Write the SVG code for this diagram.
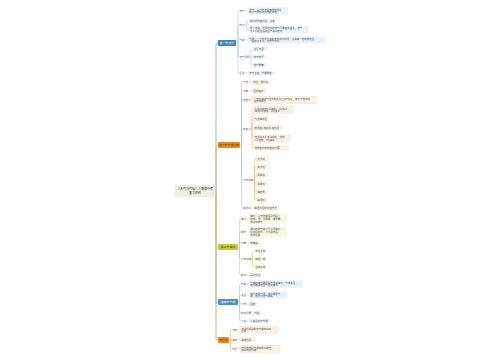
<svg xmlns="http://www.w3.org/2000/svg" width="500" height="360" viewBox="0 0 500 360">
<style>
text{font-family:"Noto Sans CJK SC","Noto Sans",sans-serif;dominant-baseline:central}
.t{font-size:2.5px;fill:#555}
.l{font-size:2.6px;fill:#666}
.n{font-size:2.8px}
.c{fill:none;stroke-width:0.6}
.b1{stroke:#9cc7e0}.b2{stroke:#f0b67a}.b3{stroke:#cdd45c}.b5{stroke:#f0a860}
.x1{fill:#e7f2f9}.x2{fill:#fdf1e6;stroke:#f6d2ae;stroke-width:0.3}.x3{fill:#f6f8df}
</style>
<rect width="500" height="360" fill="#ffffff"/>
<g id="connectors">
<g fill="none" stroke-width="1">
<path d="M215 191 H216 V45 Q216 43 218 43" stroke="#8fbfdc"/>
<path d="M215 191 H216 V304 Q216 302 218 302" stroke="#8fbfdc"/>
<path d="M215 191 H216 V245 Q216 247 218 247" stroke="#d6c27c"/>
<path d="M215 191 H216 V147 Q216 145 218 145" stroke="#e2b47e"/>
<path d="M215 191 H216 V338 Q216 340 218 340" stroke="#dcb07a"/>
</g>
<g class="c b1">
<path d="M236 43 H238 V12.5 Q238 11 239.5 11"/><path d="M245.2 11 H247.8"/>
<path d="M238 43 V26.5 Q238 25 239.5 25"/>
<path d="M245.3 25 H246.5 V22.5 Q246.5 21 248 21 H248.5"/><path d="M246.5 25 V28 Q246.5 29.5 248 29.5 H248.5"/>
<path d="M238 43 V41.5 Q238 40 239.5 40"/><path d="M245.2 40 H247.8"/>
<path d="M238 43 V55.5 Q238 57 239.5 57"/>
<path d="M250.3 57 H251 V50.5 Q251 49 252.5 49"/><path d="M250.3 57 H252.5"/><path d="M251 57 V63.5 Q251 65 252.5 65"/>
<path d="M238 43 V71.5 Q238 73 239.5 73"/><path d="M245.2 73 H247.8"/>
</g>
<g class="c b2">
<path d="M240 145 H241.5 V83.5 Q241.5 82 243 82"/><path d="M248.6 82 H251.8"/>
<path d="M241.5 145 V92.5 Q241.5 91 243 91"/><path d="M248.6 91 H251.8"/>
<path d="M241.5 145 V101.5 Q241.5 100 243 100"/><path d="M251.2 100 H252.3"/>
<path d="M241.5 145 V130.5 Q241.5 129 243 129"/>
<path d="M251.2 129 H252 V111.5 Q252 110 253.3 110"/><path d="M252 129 V120.5 Q252 119 253.3 119"/><path d="M252 129 V129 Q252 127.5 253.3 127.5"/><path d="M252 129 V137 Q252 138.5 253.3 138.5"/><path d="M252 129 V146.5 Q252 148 253.3 148"/>
<path d="M241.5 145 V178.5 Q241.5 180 243 180"/>
<path d="M253.6 180 H254.5 V160.5 Q254.5 159 256 159"/><path d="M254.5 180 V168.5 Q254.5 167 256 167"/><path d="M254.5 180 V176.5 Q254.5 175 256 175"/><path d="M254.5 180 V182 Q254.5 183.5 256 183.5"/><path d="M254.5 180 V190.5 Q254.5 192 256 192"/><path d="M254.5 180 V198.5 Q254.5 200 256 200"/>
<path d="M241.5 145 V206.5 Q241.5 208 243 208"/><path d="M251.2 208 H252.8"/>
</g>
<g class="c b3">
<path d="M238 247 H239.5 V220.5 Q239.5 219 241 219"/><path d="M246.6 219 H248.8"/>
<path d="M239.5 247 V233.5 Q239.5 232 241 232"/><path d="M246.6 232 H248.8"/>
<path d="M239.5 247 V244.5 Q239.5 243 241 243"/><path d="M246.6 243 H248.8"/>
<path d="M239.5 247 V257.5 Q239.5 259 241 259"/>
<path d="M251.6 259 H252.5 V252.5 Q252.5 251 254 251"/><path d="M251.6 259 H254"/><path d="M252.5 259 V265.5 Q252.5 267 254 267"/>
<path d="M239.5 247 V273.5 Q239.5 275 241 275"/><path d="M246.6 275 H248.8"/>
</g>
<g class="c b1">
<path d="M238 302 H239.5 V285.5 Q239.5 284 241 284"/><path d="M246.6 284 H248.8"/>
<path d="M239.5 302 V296.5 Q239.5 295 241 295"/><path d="M246.6 295 H248.8"/>
<path d="M239.5 302 V302.5 Q239.5 304 241 304"/><path d="M246.6 304 H248.8"/>
<path d="M239.5 302 V311.5 Q239.5 313 241 313"/><path d="M251.6 313 H252.8"/>
<path d="M239.5 302 V319.5 Q239.5 321 241 321"/><path d="M246.6 321 H248.8"/>
</g>
<g class="c b5">
<path d="M229 340 H230.5 V331.5 Q230.5 330 232 330"/><path d="M237.6 330 H239.8"/>
<path d="M230.5 340 V341 Q230.5 339.5 232 339.5"/><path d="M237.6 339.5 H239.8"/>
<path d="M230.5 340 V347.5 Q230.5 349 232 349"/><path d="M237.6 349 H239.8"/>
</g>
</g>
<g id="root">
<rect x="175" y="185" width="40" height="12" rx="1" fill="#efefe6" stroke="#e2e2d8" stroke-width="0.3"/>
<text x="195" y="189.3" font-size="3" fill="#333" text-anchor="middle">《天气与气候》人教版中考</text>
<text x="195" y="193.2" font-size="3" fill="#333" text-anchor="middle">复习资料</text>
</g>
<g id="n1">
<rect x="218" y="40" width="18" height="6" rx="0.8" fill="#3f86b5"/>
<text class="n" x="227" y="43" fill="#fff" text-anchor="middle">第一节 天气</text>
<text class="l" x="239.5" y="11">天气</text>
<rect class="x1" x="248" y="7.5" width="40" height="7"/>
<text class="t" x="249.2" y="9.6">天气：某个地方距离地表较近</text><text class="t" x="249.2" y="12.4">的大气层短时间内的状态</text>
<text class="l" x="239.5" y="25">特点</text>
<rect class="x1" x="248.5" y="19" width="28" height="4"/>
<text class="t" x="249.7" y="21">短时间内变化大，多变</text>
<rect class="x1" x="248.5" y="26" width="60" height="7"/>
<text class="t" x="249.7" y="28.1">同一时刻，不同地方的天气可能差别很大，天气</text><text class="t" x="249.7" y="30.9">与人们的生活和生产关系密切</text>
<text class="l" x="239.5" y="40">气候</text>
<rect class="x1" x="248" y="36.5" width="78" height="7"/>
<text class="t" x="249.2" y="38.6">气候：一个地方多年的天气平均状况，它具有一定的稳定性，</text><text class="t" x="249.2" y="41.4">一般变化不大，与天气不同</text>
<text class="l" x="239.5" y="57">天气预报</text>
<rect class="x1" x="252.5" y="47" width="13" height="4"/><text class="t" x="253.7" y="49">卫星云图</text>
<rect class="x1" x="252.5" y="55" width="13" height="4"/><text class="t" x="253.7" y="57">天气符号</text>
<rect class="x1" x="252.5" y="63" width="13" height="4"/><text class="t" x="253.7" y="65">空气质量</text>
<text class="l" x="239.5" y="73">区别</text>
<rect class="x1" x="248" y="71" width="26" height="4"/><text class="t" x="249.2" y="73">天气多变，气候稳定</text>
</g>
<g id="n2">
<rect x="218" y="142" width="22" height="6" rx="0.8" fill="#ec8a22"/>
<text class="n" x="229" y="145" fill="#5a2a00" text-anchor="middle">第二节 气温分布</text>
<text class="l" x="243" y="82">气温</text>
<rect class="x2" x="252" y="80" width="18" height="4"/><text class="t" x="253.2" y="82">单位：摄氏度</text>
<text class="l" x="243" y="91">测量</text>
<rect class="x2" x="252" y="89" width="13" height="4"/><text class="t" x="253.2" y="91">百叶箱中</text>
<text class="l" x="243" y="100">日变化</text>
<rect class="x2" x="252.5" y="96.5" width="64" height="7"/>
<text class="t" x="253.7" y="98.6">一天中最高气温出现在午后2时左右，最低气温出现</text><text class="t" x="253.7" y="101.4">在日出前后</text>
<text class="l" x="243" y="129">年变化</text>
<rect class="x2" x="253.3" y="106.5" width="40" height="7"/>
<text class="t" x="254.5" y="108.6">北半球陆地7月最热，1月最冷，</text><text class="t" x="254.5" y="111.4">海洋8月最热，2月最冷</text>
<rect class="x2" x="253.3" y="117" width="15" height="4"/><text class="t" x="254.5" y="119">气温曲线图</text>
<rect class="x2" x="253.3" y="125.5" width="28" height="4"/><text class="t" x="254.5" y="127.5">年温差=最高月-最低月</text>
<rect class="x2" x="253.3" y="135" width="37" height="7"/>
<text class="t" x="254.5" y="137.1">南半球与北半球相反，陆地</text><text class="t" x="254.5" y="139.9">1月最热，7月最冷</text>
<rect class="x2" x="253.3" y="146" width="35" height="4"/><text class="t" x="254.5" y="148">日较差与年较差的计算</text>
<text class="l" x="243" y="180">分布规律</text>
<rect class="x2" x="256" y="157" width="11" height="4"/><text class="t" x="257.2" y="159">低纬高</text>
<rect class="x2" x="256" y="165" width="11" height="4"/><text class="t" x="257.2" y="167">高纬低</text>
<rect class="x2" x="256" y="173" width="11" height="4"/><text class="t" x="257.2" y="175">夏季高</text>
<rect class="x2" x="256" y="181.5" width="11" height="4"/><text class="t" x="257.2" y="183.5">冬季低</text>
<rect class="x2" x="256" y="190" width="11" height="4"/><text class="t" x="257.2" y="192">海陆异</text>
<rect class="x2" x="256" y="198" width="11" height="4"/><text class="t" x="257.2" y="200">等温线</text>
<text class="l" x="243" y="208">等温线</text>
<rect class="x2" x="253" y="206" width="26" height="4"/><text class="t" x="254.2" y="208">等温线图的判读方法</text>
</g>
<g id="n3">
<rect x="218" y="244" width="20" height="6" rx="0.8" fill="#c3cc38"/>
<text class="n" x="228" y="247" fill="#3d4200" text-anchor="middle">第三节 降水</text>
<text class="l" x="241" y="219">降水</text>
<rect class="x3" x="249" y="214" width="38" height="10"/>
<text class="t" x="250.2" y="216.1">降水：从天空降落到地面上</text><text class="t" x="250.2" y="219">的雨、雪、冰雹等，降水量</text><text class="t" x="250.2" y="221.9">用毫米表示</text>
<text class="l" x="241" y="232">季节</text>
<rect class="x3" x="249" y="227" width="38" height="10"/>
<text class="t" x="250.2" y="229.1">降水的季节变化可以用降水</text><text class="t" x="250.2" y="232">柱状图表示，分为夏雨型、</text><text class="t" x="250.2" y="234.9">冬雨型等</text>
<text class="l" x="241" y="243">测量</text>
<rect class="x3" x="249" y="241" width="10" height="4"/><text class="t" x="250.2" y="243">雨量器</text>
<text class="l" x="241" y="259">分布规律</text>
<rect class="x3" x="254" y="249" width="12" height="4"/><text class="t" x="255.2" y="251">赤道多雨</text>
<rect class="x3" x="254" y="257" width="12" height="4"/><text class="t" x="255.2" y="259">两极少雨</text>
<rect class="x3" x="254" y="265" width="12" height="4"/><text class="t" x="255.2" y="267">沿海多雨</text>
<text class="l" x="241" y="275">影响</text>
<rect class="x3" x="249" y="273" width="13" height="4"/><text class="t" x="250.2" y="275">旱涝灾害</text>
</g>
<g id="n4">
<rect x="218" y="299" width="20" height="6" rx="0.8" fill="#4c91bd"/>
<text class="n" x="228" y="302" fill="#fff" text-anchor="middle">第四节 气候</text>
<text class="l" x="241" y="284">气候</text>
<rect class="x1" x="249" y="280.5" width="54" height="7"/>
<text class="t" x="250.2" y="282.6">气候的两大要素是气温和降水，气候类型</text><text class="t" x="250.2" y="285.4">的判断需结合气温和降水</text>
<text class="l" x="241" y="295">类型</text>
<rect class="x1" x="249" y="291.5" width="38" height="7"/>
<text class="t" x="250.2" y="293.6">热带雨林气候、热带草原气</text><text class="t" x="250.2" y="296.4">候、热带沙漠气候等</text>
<text class="l" x="241" y="304">分布</text>
<rect class="x1" x="249" y="302" width="8" height="4"/><text class="t" x="250.2" y="304">图表</text>
<text class="l" x="241" y="313">影响因素</text>
<rect class="x1" x="253" y="311" width="8" height="4"/><text class="t" x="254.2" y="313">纬度</text>
<text class="l" x="241" y="321">人类</text>
<rect class="x1" x="249" y="319" width="21" height="4"/><text class="t" x="250.2" y="321">人类活动与气候</text>
</g>
<g id="n5">
<rect x="218" y="337" width="11" height="6" rx="0.8" fill="#ee8a26"/>
<text class="n" x="223.5" y="340" fill="#5a2a00" text-anchor="middle">知识点</text>
<text class="l" x="232" y="330">纬度</text>
<rect class="x2" x="240" y="326.5" width="38" height="7"/>
<text class="t" x="241.2" y="328.6">纬度位置是影响气候的基本</text><text class="t" x="241.2" y="331.4">因素</text>
<text class="l" x="232" y="339.5">海陆</text>
<rect class="x2" x="240" y="337.5" width="15" height="4"/><text class="t" x="241.2" y="339.5">海陆位置</text>
<text class="l" x="232" y="349">地形</text>
<rect class="x2" x="240" y="345.5" width="40" height="7"/>
<text class="t" x="241.2" y="347.6">地形地势对气候的影响明显，</text><text class="t" x="241.2" y="350.4">如山地迎风坡</text>
</g>
</svg>
